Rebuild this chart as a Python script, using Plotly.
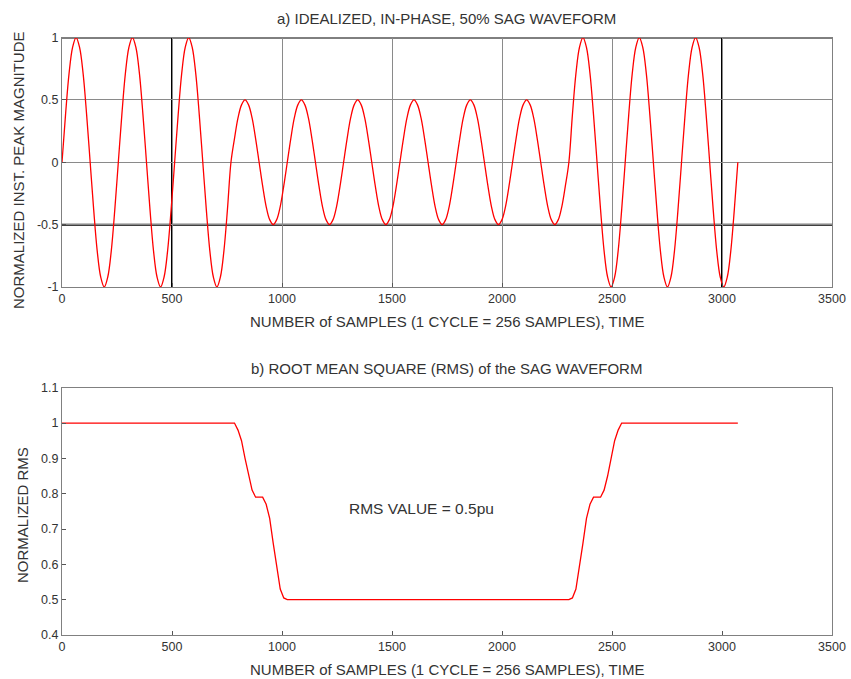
import plotly.graph_objects as go

# ---------------- data ----------------
samples_per_cycle = 256
shape_step = 16
# one cycle of the idealised waveform, sampled every 16 samples
cycle_shape = [0, 0.38, 0.71, 0.92, 1, 0.92, 0.71, 0.38,
               0, -0.38, -0.71, -0.92, -1, -0.92, -0.71, -0.38]
# peak magnitude of each of the 12 cycles
cycle_amplitude = [1, 1, 1, 0.5, 0.5, 0.5, 0.5, 0.5, 0.5, 1, 1, 1]

rms_x = [0, 768, 784, 800, 816, 832, 848, 864, 880, 896, 912, 928, 944, 960,
         976, 992, 1008, 1024, 2304, 2320, 2336, 2352, 2368, 2384, 2400, 2416,
         2432, 2448, 2464, 2480, 2496, 2512, 2528, 2544, 2560, 3072]
rms_y = [1, 1, 1.0, 0.98, 0.95, 0.90, 0.85, 0.81, 0.79, 0.79, 0.79, 0.77, 0.73,
         0.66, 0.59, 0.53, 0.505, 0.5, 0.5, 0.505, 0.53, 0.59, 0.66, 0.73, 0.77,
         0.79, 0.79, 0.79, 0.81, 0.85, 0.90, 0.95, 0.98, 1.0, 1, 1]

x_ticks = [0, 500, 1000, 1500, 2000, 2500, 3000, 3500]
x_labels = ["0", "500", "1000", "1500", "2000", "2500", "3000", "3500"]
y1_ticks = [-1, -0.5, 0, 0.5, 1]
y1_labels = ["-1", "-0.5", "0", "0.5", "1"]
y2_ticks = [0.4, 0.5, 0.6, 0.7, 0.8, 0.9, 1.0, 1.1]
y2_labels = ["0.4", "0.5", "0.6", "0.7", "0.8", "0.9", "1", "1.1"]
heavy_x = [500, 3000]
heavy_y = [-0.5, 1]

title_a = "a) IDEALIZED, IN-PHASE, 50% SAG WAVEFORM"
title_b = "b) ROOT MEAN SQUARE (RMS) of the SAG WAVEFORM"
x_title = "NUMBER of SAMPLES (1 CYCLE = 256 SAMPLES), TIME"
y1_title = "NORMALIZED INST. PEAK MAGNITUDE"
y2_title = "NORMALIZED RMS"
note_text = "RMS VALUE = 0.5pu"

# ---------------- build waveform from cycle data ----------------
wave_x, wave_y = [], []
for c, amp in enumerate(cycle_amplitude):
    for i, s in enumerate(cycle_shape):
        wave_x.append(c * samples_per_cycle + i * shape_step)
        wave_y.append(amp * s)
wave_x.append(len(cycle_amplitude) * samples_per_cycle)
wave_y.append(0)

FONT = "Liberation Sans, Arial, sans-serif"
TXT = "#333333"
GRID = "#8a8a8a"
FRAME = "#808080"

fig = go.Figure()
fig.add_trace(go.Scatter(x=wave_x, y=wave_y, mode="lines",
                         line=dict(color="#ff0000", width=1.3, shape="spline"),
                         xaxis="x", yaxis="y", showlegend=False))
fig.add_trace(go.Scatter(x=rms_x, y=rms_y, mode="lines",
                         line=dict(color="#ff0000", width=1.3),
                         xaxis="x2", yaxis="y2", showlegend=False))

xd = [62 / 851, 832 / 851]
y1d = [1 - 287 / 679, 1 - 37.5 / 679]
y2d = [1 - 635 / 679, 1 - 387.7 / 679]

common = dict(tickfont=dict(family=FONT, size=12.5, color=TXT), ticks="inside",
              ticklen=4, tickcolor="#555", linecolor=FRAME, linewidth=1,
              mirror=True, zeroline=False, showline=True, automargin=False)

fig.update_layout(
    width=851, height=679, margin=dict(l=0, r=0, t=0, b=0, autoexpand=False),
    paper_bgcolor="white", plot_bgcolor="white",
    font=dict(family=FONT, size=12, color=TXT),
    xaxis=dict(domain=xd, anchor="y", range=[0, 3500], tickvals=x_ticks,
               ticktext=x_labels, showgrid=True, gridcolor=GRID, gridwidth=1,
               **common),
    yaxis=dict(domain=y1d, anchor="x", range=[-1, 1], tickvals=y1_ticks,
               ticktext=y1_labels, showgrid=True, gridcolor=GRID, gridwidth=1,
               **common),
    xaxis2=dict(domain=xd, anchor="y2", range=[0, 3500], tickvals=x_ticks,
                ticktext=x_labels, showgrid=False, **common),
    yaxis2=dict(domain=y2d, anchor="x2", range=[0.4, 1.1], tickvals=y2_ticks,
                ticktext=y2_labels, showgrid=False, **common),
)

for hx in heavy_x:
    fig.add_shape(type="line", xref="x", yref="y domain", x0=hx, x1=hx,
                  y0=0, y1=1, line=dict(color="black", width=2), layer="below")
for hy in heavy_y:
    fig.add_shape(type="line", xref="x domain", yref="y", x0=0, x1=1,
                  y0=hy, y1=hy, line=dict(color="black", width=2), layer="below")

tf = dict(family=FONT, size=15, color=TXT)
ann = dict(xref="paper", yref="paper", showarrow=False, font=tf,
           xanchor="center", yanchor="middle")
fig.add_annotation(text=title_a, x=447 / 851, y=1 - 18 / 679, **ann)
fig.add_annotation(text=title_b, x=447 / 851, y=1 - 368 / 679, **ann)
fig.add_annotation(text=x_title, x=447 / 851, y=1 - 321 / 679, **ann)
fig.add_annotation(text=x_title, x=447 / 851, y=1 - 669 / 679, **ann)
fig.add_annotation(text=y1_title, x=18 / 851, y=1 - 170 / 679,
                   textangle=-90, **ann)
fig.add_annotation(text=y2_title, x=22 / 851, y=1 - 515 / 679,
                   textangle=-90, **ann)
fig.add_annotation(text=note_text, xref="x2", yref="y2", x=1636, y=0.757,
                   showarrow=False, font=dict(family=FONT, size=15.5, color=TXT))

fig.write_html("out.html")
